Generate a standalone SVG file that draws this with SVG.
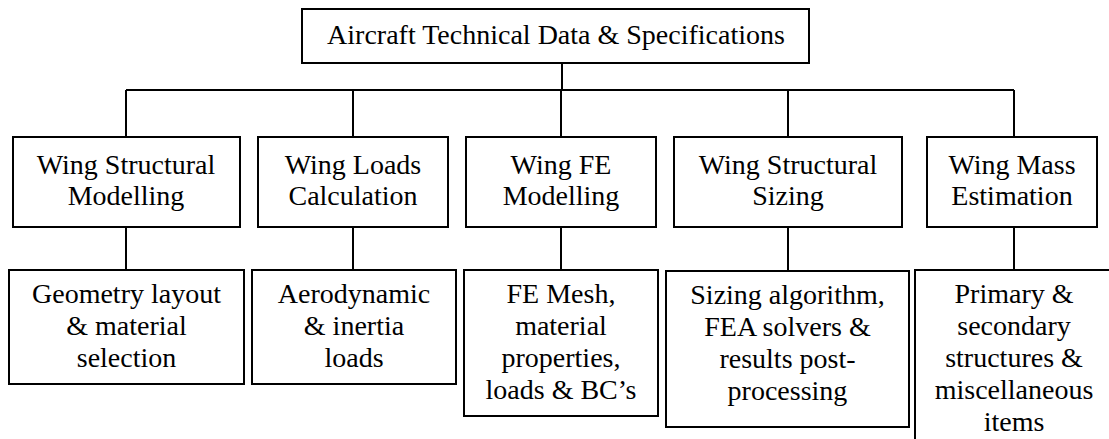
<svg xmlns="http://www.w3.org/2000/svg" width="1109" height="439" viewBox="0 0 1109 439">
<defs>
<rect id="unused" width="0" height="0"/>
</defs>
<rect width="1109" height="439" fill="#fff"/>
<g id="connectors" stroke="#000" stroke-width="2" fill="none">
<line x1="562" y1="63" x2="562" y2="90"/>
<line x1="126" y1="90" x2="1014" y2="90"/>
<line x1="126" y1="90" x2="126" y2="137"/>
<line x1="353" y1="90" x2="353" y2="137"/>
<line x1="561" y1="90" x2="561" y2="137"/>
<line x1="788" y1="90" x2="788" y2="137"/>
<line x1="1014" y1="90" x2="1014" y2="137"/>
<line x1="126" y1="227" x2="126" y2="270"/>
<line x1="353" y1="227" x2="353" y2="270"/>
<line x1="561" y1="227" x2="561" y2="270"/>
<line x1="788" y1="227" x2="788" y2="270"/>
<line x1="1014" y1="227" x2="1014" y2="270"/>
</g>
<g id="top">
<rect x="302" y="9" width="507" height="54" fill="#fff" stroke="#000" stroke-width="2"/>
<text x="556" y="44" font-family="Liberation Serif" font-size="28" text-anchor="middle">Aircraft Technical Data &amp; Specifications</text>
</g>
<g id="n1">
<rect x="13" y="137" width="227" height="90" fill="#fff" stroke="#000" stroke-width="2"/>
<text x="126" y="174" font-family="Liberation Serif" font-size="28" text-anchor="middle">Wing Structural</text>
<text x="126" y="205" font-family="Liberation Serif" font-size="28" text-anchor="middle">Modelling</text>
</g>
<g id="n2">
<rect x="258" y="137" width="190" height="90" fill="#fff" stroke="#000" stroke-width="2"/>
<text x="353" y="174" font-family="Liberation Serif" font-size="28" text-anchor="middle">Wing Loads</text>
<text x="353" y="205" font-family="Liberation Serif" font-size="28" text-anchor="middle">Calculation</text>
</g>
<g id="n3">
<rect x="466" y="137" width="190" height="90" fill="#fff" stroke="#000" stroke-width="2"/>
<text x="561" y="174" font-family="Liberation Serif" font-size="28" text-anchor="middle">Wing FE</text>
<text x="561" y="205" font-family="Liberation Serif" font-size="28" text-anchor="middle">Modelling</text>
</g>
<g id="n4">
<rect x="674" y="137" width="228" height="90" fill="#fff" stroke="#000" stroke-width="2"/>
<text x="788" y="174" font-family="Liberation Serif" font-size="28" text-anchor="middle">Wing Structural</text>
<text x="788" y="205" font-family="Liberation Serif" font-size="28" text-anchor="middle">Sizing</text>
</g>
<g id="n5">
<rect x="927" y="137" width="170" height="90" fill="#fff" stroke="#000" stroke-width="2"/>
<text x="1012" y="174" font-family="Liberation Serif" font-size="28" text-anchor="middle">Wing Mass</text>
<text x="1012" y="205" font-family="Liberation Serif" font-size="28" text-anchor="middle">Estimation</text>
</g>
<g id="d1">
<rect x="9" y="270" width="235" height="114" fill="#fff" stroke="#000" stroke-width="2"/>
<text x="126.5" y="303" font-family="Liberation Serif" font-size="28" text-anchor="middle">Geometry layout</text>
<text x="126.5" y="335" font-family="Liberation Serif" font-size="28" text-anchor="middle">&amp; material</text>
<text x="126.5" y="367" font-family="Liberation Serif" font-size="28" text-anchor="middle">selection</text>
</g>
<g id="d2">
<rect x="252" y="270" width="204" height="114" fill="#fff" stroke="#000" stroke-width="2"/>
<text x="354" y="303" font-family="Liberation Serif" font-size="28" text-anchor="middle">Aerodynamic</text>
<text x="354" y="335" font-family="Liberation Serif" font-size="28" text-anchor="middle">&amp; inertia</text>
<text x="354" y="367" font-family="Liberation Serif" font-size="28" text-anchor="middle">loads</text>
</g>
<g id="d3">
<rect x="464" y="270" width="194" height="146" fill="#fff" stroke="#000" stroke-width="2"/>
<text x="561" y="303" font-family="Liberation Serif" font-size="28" text-anchor="middle">FE Mesh,</text>
<text x="561" y="335" font-family="Liberation Serif" font-size="28" text-anchor="middle">material</text>
<text x="561" y="367" font-family="Liberation Serif" font-size="28" text-anchor="middle">properties,</text>
<text x="561" y="399" font-family="Liberation Serif" font-size="28" text-anchor="middle">loads &amp; BC’s</text>
</g>
<g id="d4">
<rect x="666" y="271" width="243" height="156" fill="#fff" stroke="#000" stroke-width="2"/>
<text x="787.5" y="304" font-family="Liberation Serif" font-size="28" text-anchor="middle">Sizing algorithm,</text>
<text x="787.5" y="336" font-family="Liberation Serif" font-size="28" text-anchor="middle">FEA solvers &amp;</text>
<text x="787.5" y="368" font-family="Liberation Serif" font-size="28" text-anchor="middle">results post-</text>
<text x="787.5" y="400" font-family="Liberation Serif" font-size="28" text-anchor="middle">processing</text>
</g>
<g id="d5">
<rect x="915" y="270" width="260" height="260" fill="#fff" stroke="#000" stroke-width="2"/>
<text x="1014" y="303" font-family="Liberation Serif" font-size="28" text-anchor="middle">Primary &amp;</text>
<text x="1014" y="335" font-family="Liberation Serif" font-size="28" text-anchor="middle">secondary</text>
<text x="1014" y="367" font-family="Liberation Serif" font-size="28" text-anchor="middle">structures &amp;</text>
<text x="1014" y="399" font-family="Liberation Serif" font-size="28" text-anchor="middle">miscellaneous</text>
<text x="1014" y="431" font-family="Liberation Serif" font-size="28" text-anchor="middle">items</text>
</g>
</svg>
